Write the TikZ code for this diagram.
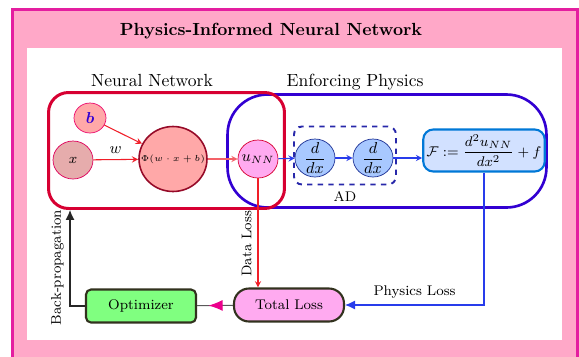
\documentclass[tikz,border=0pt]{standalone}
\usepackage{amsmath,bm}
\usetikzlibrary{shapes.geometric,arrows.meta,decorations.markings}

\definecolor{framepink}{RGB}{255,168,200}
\definecolor{framemag}{RGB}{228,30,160}
\definecolor{nnred}{RGB}{215,0,50}
\definecolor{epblue}{RGB}{50,0,210}
\definecolor{nodepink}{RGB}{255,168,168}
\definecolor{inpink}{RGB}{230,172,172}
\definecolor{phired}{RGB}{150,10,40}
\definecolor{outpink}{RGB}{255,170,240}
\definecolor{ddxblue}{RGB}{168,200,255}
\definecolor{ddxline}{RGB}{30,50,150}
\definecolor{adnavy}{RGB}{40,40,170}
\definecolor{fblue}{RGB}{210,225,255}
\definecolor{fline}{RGB}{0,120,215}
\definecolor{lossline}{RGB}{50,50,30}
\definecolor{optgreen}{RGB}{128,255,128}
\definecolor{flowblue}{RGB}{40,60,235}
\definecolor{flowred}{RGB}{240,30,40}

\begin{document}
\begin{tikzpicture}[>=stealth, x=0.02cm, y=-0.02cm]
        \tikzset{
            neuron/.style={ellipse,draw,inner sep=0pt,minimum width=8mm,minimum height=7.6mm},
            ddx/.style={neuron,fill=ddxblue,draw=ddxline},
            lossbox/.style={rectangle,draw=lossline,line width=1.2pt,minimum width=22mm,minimum height=6.6mm,font=\footnotesize},
            redflow/.style={->,semithick,flowred},
            blueflow/.style={->,semithick,flowblue},
            sidelabel/.style={rotate=90,anchor=south,font=\footnotesize,text=black}
        }

        \useasboundingbox (0,0) rectangle (579,356);
        \filldraw[fill=framepink, draw=framemag, line width=1.4pt] (12.5,9.5) rectangle (577.5,380);
        \fill[white] (27,48) rectangle (562,340);

        \node[font=\bfseries, anchor=base] (title) at (271,35) {Physics-Informed Neural Network};
        \node[anchor=base] (nnlabel) at (152,86) {Neural Network};
        \node[anchor=base] (eplabel) at (355,86) {Enforcing Physics};

        \node[draw=epblue, line width=1.5pt, rounded corners=8mm, minimum width=63.8mm, minimum height=22.6mm] (ep) at (387,151) {};
        \node[draw=nnred, line width=1.7pt, rounded corners=4mm, minimum width=47.2mm, minimum height=23.2mm] (nn) at (166.5,150.5) {};

        \node[neuron,fill=nodepink,draw=magenta!70!red,minimum width=6.4mm,minimum height=6mm,
            label={[font=\small,text=epblue]center:$\bm{b}$}] (b) at (90,118) {};
        \node[neuron,fill=inpink,draw=nnred!80!magenta,
            label={[font=\footnotesize]center:$x$}] (x) at (73,160) {};
        \node[neuron,fill=nodepink,draw=phired,line width=0.9pt,minimum width=13.6mm,minimum height=13mm,
            label={[font=\fontsize{5.4}{6.5}\selectfont]center:$\Phi(w\cdot x+b)$}] (phi) at (173,159) {};
        \node[neuron,fill=outpink,draw=nnred,
            label={[font=\small]center:$u_{NN}$}] (unn) at (258,159) {};

        \node[draw=adnavy, dashed, line width=1.1pt, rounded corners=1.6mm, minimum width=20.4mm, minimum height=11.6mm,
            label={[font=\footnotesize]below:AD}] (ad) at (345,155.5) {};
        \node[ddx, label={[font=\small]center:$\dfrac{d}{dx}$}] (d1) at (315,158) {};
        \node[ddx, label={[font=\small]center:$\dfrac{d}{dx}$}] (d2) at (373,158) {};
        \node[draw=fline, fill=fblue, line width=1.2pt, rounded corners=2mm, minimum width=22.4mm, minimum height=8.4mm,
            inner sep=2pt, font=\footnotesize] (F) at (484,150.5) {$\mathcal{F} := \dfrac{d^2u_{NN}}{dx^2} + f$};

        \node[lossbox, fill=outpink, rounded corners=3mm] (total) at (289,305) {Total Loss};
        \node[lossbox, fill=optgreen, rounded corners=1mm] (opt) at (141,306) {Optimizer};

        \draw[redflow] (b) -- (phi);
        \draw[redflow] (x) -- node[above,font=\small,text=black] {$w$} (phi);
        \draw[redflow, draw=flowred!70] (phi) -- (unn);
        \draw[blueflow] (unn) -- (d1);
        \draw[blueflow] (d1) -- (d2);
        \draw[blueflow] (d2) -- (d2 -| F.west);
        \draw[redflow] (unn) -- node[sidelabel,pos=0.6] {Data Loss} (unn |- total.north);
        \draw[semithick, flowblue, -{Latex[length=2mm,width=1.8mm]}] (F) |- node[above,pos=0.75,font=\footnotesize,text=black] {Physics Loss} (total);
        \draw[semithick, gray!70!black, postaction={decorate},
            decoration={markings, mark=at position 0.68 with {\arrow[magenta]{Latex[length=2.8mm,width=2.2mm]}}}] (total) -- (opt);
        \draw[semithick, black!85, -{Latex[length=2mm,width=1.8mm]}] (opt.west) -| node[sidelabel,pos=0.7] {Back-propagation} ([xshift=4.6mm]nn.south west);
\end{tikzpicture}
\end{document}
